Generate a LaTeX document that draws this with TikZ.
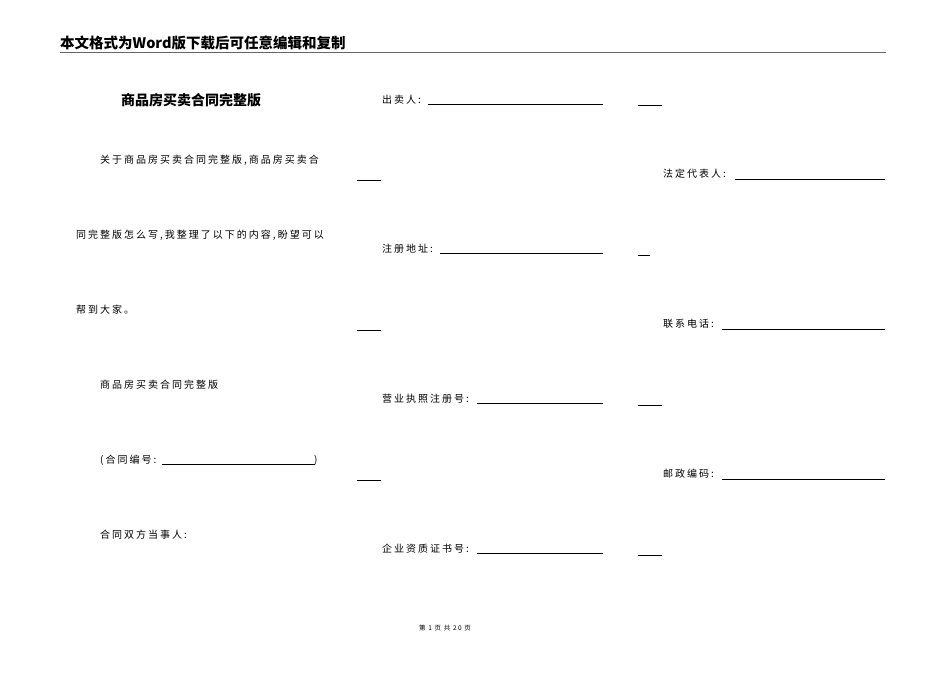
\documentclass[tikz,border=0pt]{standalone}
\usepackage{fontspec}
\setmainfont{Noto Sans CJK SC}
\newfontfamily\bodyf[LetterSpace=20]{Noto Sans CJK SC}
\begin{document}
\begin{tikzpicture}[x=1pt,y=-1pt,
  txt/.style={anchor=west,inner sep=0pt,font=\bodyf\fontsize{10}{12}\selectfont},
  uline/.style={line width=0.6pt,black}]
\useasboundingbox (0,0) rectangle (950,672);
\node[anchor=west,inner sep=0pt,font=\fontsize{14.5}{16}\selectfont\bfseries] (hdr) at (60,43) {本文格式为Word版下载后可任意编辑和复制};
\draw[line width=1pt,gray!80!black] (60,52) -- (886,52);
\node[inner sep=0pt,font=\fontsize{14}{16}\selectfont\bfseries] (title) at (191,100) {商品房买卖合同完整版};
% left column
\node[txt] (p1) at (100,160) {关于商品房买卖合同完整版,商品房买卖合};
\node[txt] (p2) at (76,235) {同完整版怎么写,我整理了以下的内容,盼望可以};
\node[txt] (p3) at (76,310) {帮到大家。};
\node[txt] (p4) at (100,385) {商品房买卖合同完整版};
\node[txt] (p5) at (100,460) {(合同编号:};
\draw[uline] (162,464) -- (315,464);
\node[txt] (p5b) at (314,460) {)};
\node[txt] (p6) at (100,535) {合同双方当事人:};
% middle column
\node[txt] (m1) at (382,100) {出卖人:}; \draw[uline] (428,104) -- (603,104);
\draw[uline] (638,105) -- (662,105);
\draw[uline] (357,180) -- (381,180);
\node[txt] (m2) at (382,249) {注册地址:}; \draw[uline] (440,253) -- (603,253);
\draw[uline] (638,255) -- (650,255);
\draw[uline] (357,330) -- (381,330);
\node[txt] (m3) at (382,399) {营业执照注册号:}; \draw[uline] (477,403) -- (603,403);
\draw[uline] (638,405) -- (662,405);
\draw[uline] (357,480) -- (381,480);
\node[txt] (m4) at (382,549) {企业资质证书号:}; \draw[uline] (477,553) -- (603,553);
\draw[uline] (638,555) -- (662,555);
% right column
\node[txt] (r1) at (663,174) {法定代表人:}; \draw[uline] (735,179) -- (885,179);
\node[txt] (r2) at (663,324) {联系电话:}; \draw[uline] (722,329) -- (885,329);
\node[txt] (r3) at (663,474) {邮政编码:}; \draw[uline] (722,479) -- (885,479);
\node[inner sep=0pt,font=\bodyf\fontsize{6.5}{8}\selectfont] (ftr) at (445,628) {第 1 页 共 20 页};
\end{tikzpicture}
\end{document}
